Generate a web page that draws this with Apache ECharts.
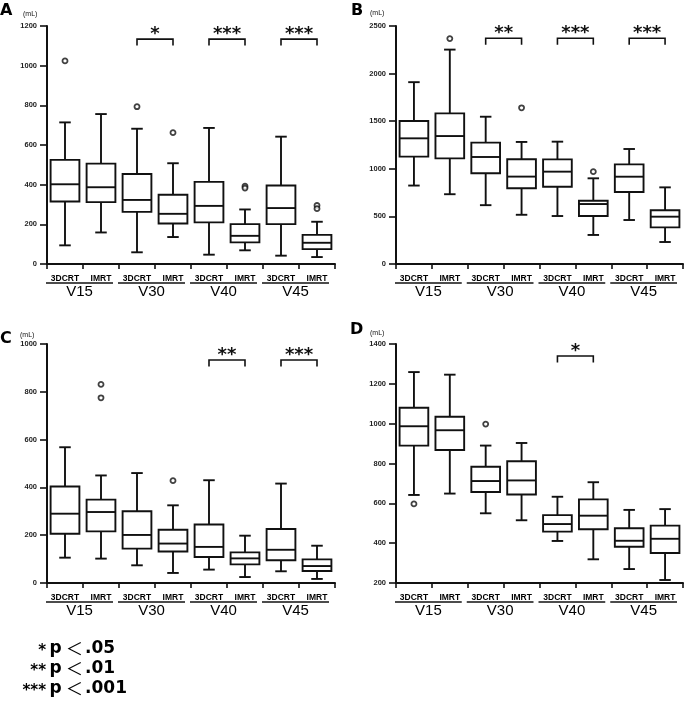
<!DOCTYPE html>
<html><head><meta charset="utf-8">
<script src="https://cdn.jsdelivr.net/npm/echarts@6/dist/echarts.min.js"></script>
<style>html,body{margin:0;padding:0;background:#fff}#c{width:685px;height:707px}</style>
</head><body><div id="c"></div>
<script>
// ---------- data ----------
const categories = ['3DCRT','IMRT','3DCRT','IMRT','3DCRT','IMRT','3DCRT','IMRT'];
const groups = ['V15','V30','V40','V45'];
// box stats: [min, Q1, median, Q3, max] per category
const boxesA = [[94,315,402,525,714],[159,312,387,506,756],[59,263,323,454,682],[136,204,253,349,508],
                [47,210,293,414,686],[69,109,142,201,275],[42,201,282,396,642],[35,75,107,147,213]];
const outliersA = [[0,1024],[2,793],[3,662],[5,392],[5,383],[7,295],[7,279]];
const bracketsA = [[2,3,1134,'*'],[4,5,1134,'***'],[6,7,1134,'***']];

const boxesB = [[824,1128,1320,1502,1910],[733,1110,1344,1582,2252],[618,953,1124,1275,1547],[517,796,918,1100,1282],
                [504,812,970,1099,1285],[305,504,630,665,900],[462,756,917,1047,1208],[231,385,497,564,805]];
const outliersB = [[1,2368],[3,1641],[5,970]];
const bracketsB = [[2,3,2371,'**'],[4,5,2371,'***'],[6,7,2371,'***']];

const boxesC = [[106,206,290,404,568],[102,216,297,349,450],[74,144,201,300,460],[42,132,165,223,325],
                [56,109,151,245,430],[25,78,103,128,198],[49,95,139,226,416],[17,50,71,99,156]];
const outliersC = [[1,831],[1,775],[3,428]];
const bracketsC = [[4,5,933,'**'],[6,7,933,'***']];

const boxesD = [[642,890,987,1080,1259],[649,868,967,1035,1246],[550,657,712,784,890],[515,644,715,811,903],
                [411,458,496,541,633],[319,470,538,620,706],[270,382,412,475,567],[215,351,422,488,571]];
const outliersD = [[0,597],[2,998]];
const bracketsD = [[4,5,1340,'*']];

const yRanges = [[0,1200,200],[0,2500,500],[0,1000,200],[200,1400,200]];
const letters = ['A','B','C','D'];
const unitLabel = '(mL)';
const legendStars = ['*','**','***'];
const legendP = 'p';
const legendLt = '\uFF1C';
const legendVals = ['.05','.01','.001'];

// ---------- layout ----------
const grids = [
  {left:47, top:26, width:288, height:238},
  {left:396, top:26, width:287, height:238},
  {left:47, top:344, width:288, height:239},
  {left:396, top:344, width:287, height:239}
];
const letterPos = [[0,3],[351,3],[0,331],[350,322]];
const unitPos = [[23,11],[370,10],[20,332],[370,330]];

const FONT = '"Liberation Sans", Arial, sans-serif';
const WIDE = '"DejaVu Sans", sans-serif';
const INK = '#111';

const panelData = [
  [boxesA, outliersA, bracketsA],
  [boxesB, outliersB, bracketsB],
  [boxesC, outliersC, bracketsC],
  [boxesD, outliersD, bracketsD]
];

function boxRender(params, api) {
  const c = api.value(0);
  const pMin = api.coord([c, api.value(1)]);
  const pQ1 = api.coord([c, api.value(2)]);
  const pMed = api.coord([c, api.value(3)]);
  const pQ3 = api.coord([c, api.value(4)]);
  const pMax = api.coord([c, api.value(5)]);
  const cw = api.size([1, 0])[0];
  const bw = cw * 0.8, cap = cw * 0.32;
  const x = pMed[0];
  const st = {stroke: INK, lineWidth: 1.9, fill: null};
  return {type:'group', children:[
    {type:'line', shape:{x1:x, y1:pMax[1], x2:x, y2:pQ3[1]}, style:st},
    {type:'line', shape:{x1:x, y1:pQ1[1], x2:x, y2:pMin[1]}, style:st},
    {type:'line', shape:{x1:x-cap/2, y1:pMax[1], x2:x+cap/2, y2:pMax[1]}, style:st},
    {type:'line', shape:{x1:x-cap/2, y1:pMin[1], x2:x+cap/2, y2:pMin[1]}, style:st},
    {type:'rect', shape:{x:x-bw/2, y:pQ3[1], width:bw, height:pQ1[1]-pQ3[1]}, style:{stroke:INK, lineWidth:1.9, fill:'#fff'}},
    {type:'line', shape:{x1:x-bw/2, y1:pMed[1], x2:x+bw/2, y2:pMed[1]}, style:st}
  ]};
}

function bracketRender(params, api) {
  const p0 = api.coord([api.value(0), api.value(2)]);
  const p1 = api.coord([api.value(1), api.value(2)]);
  const leg = 6.5;
  return {type:'group', children:[
    {type:'polyline', shape:{points:[[p0[0],p0[1]+leg],[p0[0],p0[1]],[p1[0],p1[1]],[p1[0],p1[1]+leg]]},
     style:{stroke:INK, lineWidth:1.6, fill:null}},
    {type:'text', style:{text: api.value(3), x:(p0[0]+p1[0])/2, y:p0[1]-4.5,
      fill:INK, font:'bold 18px ' + WIDE, align:'center', verticalAlign:'middle', textAlign:'center', textVerticalAlign:'middle'}}
  ]};
}

function groupRender(yMin) {
  return function(params, api) {
    const gi = api.value(0);
    const a = api.coord([2*gi, yMin]);
    const b = api.coord([2*gi+1, yMin]);
    const cw = api.size([1, 0])[0];
    const x1 = a[0] - cw/2 - 1, x2 = b[0] + cw/2 - 6;
    return {type:'group', children:[
      {type:'line', shape:{x1:x1, y1:a[1]+19, x2:x2, y2:a[1]+19}, style:{stroke:INK, lineWidth:1.7}},
      {type:'text', style:{text: groups[gi], x:(x1+x2)/2, y:a[1]+28, fill:'#000',
        font:'15px ' + FONT, align:'center', verticalAlign:'middle', textAlign:'center', textVerticalAlign:'middle'}}
    ]};
  };
}

const option = {
  animation:false,
  backgroundColor:'#fff',
  grid: grids.map(g => Object.assign({containLabel:false}, g)),
  xAxis: grids.map((g,i) => ({
    type:'category', gridIndex:i, data:categories, boundaryGap:true,
    axisLine:{lineStyle:{color:INK, width:2}},
    axisTick:{show:true, length:5, lineStyle:{color:INK, width:1.6}, alignWithLabel:false},
    axisLabel:{interval:0, margin:10, fontSize:8.5, fontWeight:'bold', color:'#000', fontFamily:FONT},
    splitLine:{show:false}
  })),
  yAxis: grids.map((g,i) => ({
    type:'value', gridIndex:i, min:yRanges[i][0], max:yRanges[i][1], interval:yRanges[i][2],
    axisLine:{show:true, lineStyle:{color:INK, width:2}},
    axisTick:{show:true, length:7, lineStyle:{color:INK, width:1.6}},
    axisLabel:{margin:10, fontSize:7.5, fontWeight:'bold', color:'#222', fontFamily:FONT,
      formatter: v => String(v)},
    splitLine:{show:false}
  })),
  series: [],
  graphic: []
};

panelData.forEach((pd, i) => {
  const [boxes, outs, brs] = pd;
  option.series.push({
    type:'custom', xAxisIndex:i, yAxisIndex:i, renderItem:boxRender, clip:false,
    encode:{x:0, y:[1,2,3,4,5]},
    data: boxes.map((b, k) => [k].concat(b)), z:3
  });
  option.series.push({
    type:'scatter', xAxisIndex:i, yAxisIndex:i, symbol:'circle', symbolSize:5,
    itemStyle:{color:'#fff', borderColor:INK, borderWidth:1.8},
    data: outs, z:4
  });
  option.series.push({
    type:'custom', xAxisIndex:i, yAxisIndex:i, renderItem:bracketRender, clip:false,
    encode:{x:[0,1], y:2},
    data: brs, z:4
  });
  option.series.push({
    type:'custom', xAxisIndex:i, yAxisIndex:i, renderItem:groupRender(yRanges[i][0]), clip:false,
    encode:{x:0, y:1},
    data: groups.map((g, k) => [k, yRanges[i][0]]), z:4
  });
  option.graphic.push({type:'text', left:letterPos[i][0], top:letterPos[i][1],
    style:{text:letters[i], font:'bold 16px ' + WIDE, fill:'#000'}});
  option.graphic.push({type:'text', left:unitPos[i][0], top:unitPos[i][1],
    style:{text:unitLabel, font:'7px ' + FONT, fill:'#111'}});
});

const legY = [649, 669, 689];
legY.forEach((y, k) => {
  option.graphic.push({type:'text', x:46, y:y+2, style:{text:legendStars[k], font:'bold 15px ' + WIDE, fill:'#000',
    align:'right', verticalAlign:'middle', textAlign:'right', textVerticalAlign:'middle'}});
  option.graphic.push({type:'text', x:49.5, y:y, style:{
    text:'{a|' + legendP + '}{s| }{b|' + legendLt + '}{t| }{a|' + legendVals[k] + '}',
    align:'left', verticalAlign:'middle', textAlign:'left', textVerticalAlign:'middle',
    rich:{
      a:{fontFamily:'"DejaVu Sans"', fontWeight:'bold', fontSize:17, fill:'#000', color:'#000'},
      s:{fontFamily:'"DejaVu Sans"', fontSize:14, fill:'#000', color:'#000'},
      t:{fontFamily:'"DejaVu Sans"', fontSize:6, fill:'#000', color:'#000'},
      b:{fontFamily:'"Noto Sans CJK JP"', fontWeight:'normal', fontSize:17, fill:'#000', color:'#000'}
    }}});
});

const chart = echarts.init(document.getElementById('c'), null, {renderer:'canvas'});
chart.setOption(option);
</script></body></html>
